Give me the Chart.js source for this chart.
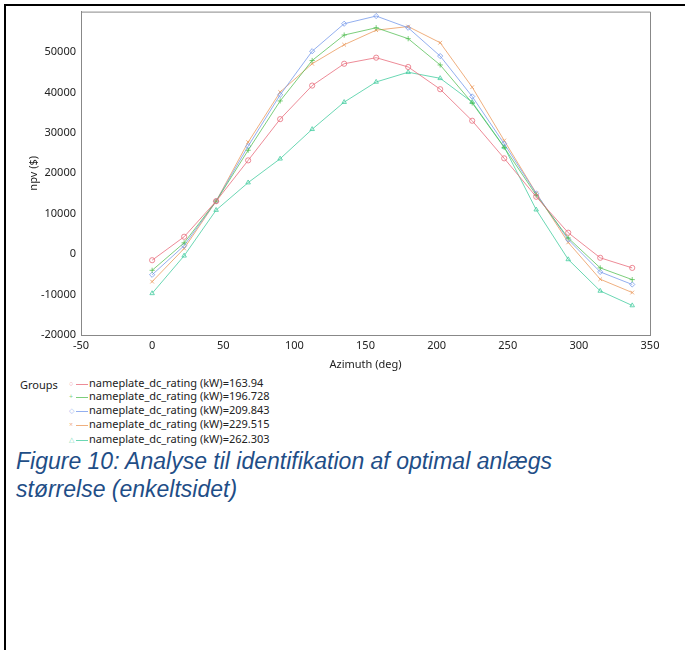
<!DOCTYPE html>
<html>
<head>
<meta charset="utf-8">
<script src="https://cdn.jsdelivr.net/npm/chart.js@4"></script>
<style>
  html, body { margin: 0; padding: 0; background: #fff; }
  body { width: 685px; height: 650px; position: relative; overflow: hidden; font-family: "Noto Sans", sans-serif; }
  #borderTop { position: absolute; left: 4px; top: 4px; width: 681px; height: 2px; background: #000; }
  #borderLeft { position: absolute; left: 4px; top: 4px; width: 2px; height: 646px; background: #000; }
  #wrap { position: absolute; left: 0; top: 0; width: 685px; height: 375px; }
  .row { position: absolute; left: 66px; height: 14px; line-height: 14px; white-space: nowrap; }
  .mk { display: inline-block; width: 10px; text-align: center; font-size: 7px; vertical-align: middle; }
  .ln { display: inline-block; width: 12px; height: 1px; vertical-align: middle; margin-right: 1px; }
  #caption { position: absolute; left: 16px; top: 447px; font-family: "Liberation Sans", Arial, sans-serif; font-style: italic; font-size: 23px; line-height: 28px; color: rgb(31,78,135); }
</style>
</head>
<body>
<div id="wrap"><canvas id="c"></canvas></div>
<div id="borderTop"></div>
<div id="borderLeft"></div>
<div id="groupsTitle" style="position:absolute;left:20px;top:377px;font-size:11px;color:#222;">Groups</div>
<div id="legendRows"></div>
<div id="caption">Figure 10: Analyse til identifikation af optimal anlægs<br>størrelse (enkeltsidet)</div>
<script>
const azimuth = [0, 22.5, 45, 67.5, 90, 112.5, 135, 157.5, 180, 202.5, 225, 247.5, 270, 292.5, 315, 337.5];
const groupLabels = [
  "nameplate_dc_rating (kW)=163.94",
  "nameplate_dc_rating (kW)=196.728",
  "nameplate_dc_rating (kW)=209.843",
  "nameplate_dc_rating (kW)=229.515",
  "nameplate_dc_rating (kW)=262.303"
];
const npv163 = [-1500, 4300, 13100, 23200, 33400, 41700, 47100, 48600, 46300, 40800, 33000, 23700, 14200, 5300, -900, -3400];
const npv196 = [-4000, 2800, 13100, 25700, 37900, 47900, 54200, 56000, 53300, 46800, 37400, 26400, 14600, 4000, -3400, -6300];
const npv209 = [-5100, 2100, 13100, 26700, 39400, 50200, 57000, 58900, 56000, 49000, 39000, 27300, 15000, 3600, -4400, -7500];
const npv229 = [-6800, 1400, 13100, 27700, 40100, 47100, 51800, 55400, 56300, 52300, 41300, 28100, 15100, 2900, -6200, -9500];
const npv262 = [-9700, -400, 10900, 17700, 23600, 30900, 37600, 42600, 45000, 43500, 37600, 26500, 11000, -1300, -9100, -12700];
const seriesValues = [npv163, npv196, npv209, npv229, npv262];
const xTicks = [-50, 0, 50, 100, 150, 200, 250, 300, 350];
const yTicks = [-20000, -10000, 0, 10000, 20000, 30000, 40000, 50000];

const colors = ["rgba(232,110,125,0.8)", "rgba(80,190,80,0.75)", "rgba(120,155,235,0.8)", "rgba(235,155,95,0.8)", "rgba(70,205,160,0.8)"];
const markers = ["circle", "cross", "rectRot", "crossRot", "triangle"];
const markerChars = ["○", "+", "◇", "×", "△"];

const datasets = seriesValues.map((vals, i) => ({
  label: groupLabels[i],
  data: vals.map((v, j) => ({ x: azimuth[j], y: v })),
  borderColor: colors[i],
  backgroundColor: "rgba(0,0,0,0)",
  borderWidth: 1,
  pointStyle: markers[i],
  pointRadius: 2.6,
  pointBorderWidth: 1,
  pointBorderColor: colors[i],
  pointBackgroundColor: "rgba(0,0,0,0)",
  tension: 0,
  showLine: true
}));

const font = { family: "Noto Sans", size: 11 };
new Chart(document.getElementById("c"), {
  type: "scatter",
  data: { datasets },
  options: {
    responsive: true,
    maintainAspectRatio: false,
    animation: false,
    layout: { padding: { top: 11, right: 35, left: 0, bottom: 0 } },
    plugins: { legend: { display: false }, tooltip: { enabled: false } },
    scales: {
      x: {
        type: "linear", min: -50, max: 350,
        afterBuildTicks: s => { s.ticks = xTicks.map(v => ({ value: v })); },
        afterFit: s => { s.height = 40; },
        grid: { display: false, drawTicks: false },
        border: { display: true, color: "#888", width: 1 },
        ticks: { font, color: "#222", padding: 4, maxRotation: 0, autoSkip: false, callback: v => String(v) },
        title: { display: true, text: "Azimuth (deg)", font, color: "#222", padding: { top: 0, bottom: 4 } }
      },
      y: {
        type: "linear", min: -20000, max: 60000,
        afterBuildTicks: s => { s.ticks = yTicks.map(v => ({ value: v })); },
        afterFit: s => { s.width = 81; },
        grid: { display: false, drawTicks: false },
        border: { display: true, color: "#888", width: 1 },
        ticks: { font, color: "#222", padding: 5, autoSkip: false, callback: v => String(v) },
        title: { display: true, text: "npv ($)", font, color: "#222", padding: { top: 27, bottom: 0 } }
      }
    }
  },
  plugins: [{
    id: "frame",
    afterDraw(chart) {
      const { ctx, chartArea: a } = chart;
      ctx.save();
      ctx.strokeStyle = "#888";
      ctx.lineWidth = 1;
      ctx.beginPath();
      ctx.moveTo(a.left, a.top + 0.5); ctx.lineTo(a.right + 0.5, a.top + 0.5);
      ctx.lineTo(a.right + 0.5, a.bottom);
      ctx.stroke();
      ctx.restore();
    }
  }]
});

const rowTops = [376, 389, 403, 417, 432];
const lr = document.getElementById("legendRows");
groupLabels.forEach((lab, i) => {
  const r = document.createElement("div");
  r.className = "row";
  r.style.top = rowTops[i] + "px";
  r.style.fontSize = "11px";
  r.style.color = "#222";
  r.innerHTML = '<span class="mk" style="color:' + colors[i] + '">' + markerChars[i] + '</span>' +
    '<span class="ln" style="background:' + colors[i] + '"></span>' + lab;
  lr.appendChild(r);
});
</script>
</body>
</html>
